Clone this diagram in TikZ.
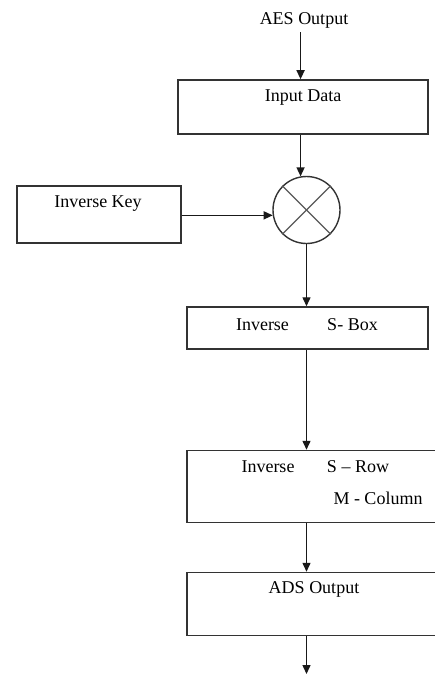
\documentclass[tikz,border=0pt]{standalone}
\usepackage{fontspec}
\setmainfont{Liberation Serif}
\usetikzlibrary{arrows.meta}
\begin{document}
\begin{tikzpicture}[x=1pt,y=-1pt,
  box/.style={draw=black!80,line width=1.5pt,rectangle,inner sep=0pt},
  lbl/.style={inner sep=0pt,font=\fontsize{18}{20}\selectfont},
  arr/.style={draw=black!90,line width=1.4pt,-{Triangle[length=9pt,width=8pt]}},
  ln/.style={draw=black!85,line width=1.4pt}]
\useasboundingbox (0,0) rectangle (435,674);
\fill[white] (0,0) rectangle (435,674);
% boxes
\node[box,minimum width=250pt,minimum height=54pt] (indata) at (303,107) {};
\node[box,minimum width=164pt,minimum height=57pt] (invkey) at (99,214.5) {};
\node[draw=black!80,line width=1.4pt,circle,minimum size=67pt,inner sep=0pt] (xor) at (306.5,210) {};
\node[box,minimum width=241pt,minimum height=42pt] (sbox) at (307.5,328) {};
\node[box,minimum width=258pt,minimum height=72pt] (srow) at (316,486.5) {};
\node[box,minimum width=258pt,minimum height=63pt] (ads) at (316,604) {};
% cross in circle
\draw[black!65,line width=1.2pt] (xor.45) -- (xor.225);
\draw[black!65,line width=1.2pt] (xor.135) -- (xor.315);
% labels
\node[lbl] (aes) at (304,20) {AES Output};
\node[lbl] (tindata) at (303,98) {Input Data};
\node[lbl] (tinvkey) at (98,204) {Inverse Key};
\node[lbl] (tsb1) at (262.5,325) {Inverse};
\node[lbl] (tsb2) at (352.5,325) {S- Box};
\node[lbl] (tsr1) at (268,467) {Inverse};
\node[lbl] (tsr2) at (358,467) {S – Row};
\node[lbl] (tsr3) at (378,498) {M - Column};
\node[lbl] (tads) at (314,589) {ADS Output};
\coordinate (bottom) at (306,674);
% connectors
\draw[arr] (aes.south -| xor.100) ++(0,4) -- (indata.north -| xor.100);
\draw[arr] (indata.south -| xor.100) -- (xor.100);
\draw[arr] (invkey.east |- xor.189) -- (xor.189);
\draw[arr] (xor.south) -- (sbox.north -| xor.south);
\draw[arr] (sbox.south -| xor.south) -- (srow.north -| xor.south);
\draw[arr] (srow.south -| xor.south) -- (ads.north -| xor.south);
\draw[arr] (ads.south -| xor.south) -- (bottom -| xor.south);
\end{tikzpicture}
\end{document}
